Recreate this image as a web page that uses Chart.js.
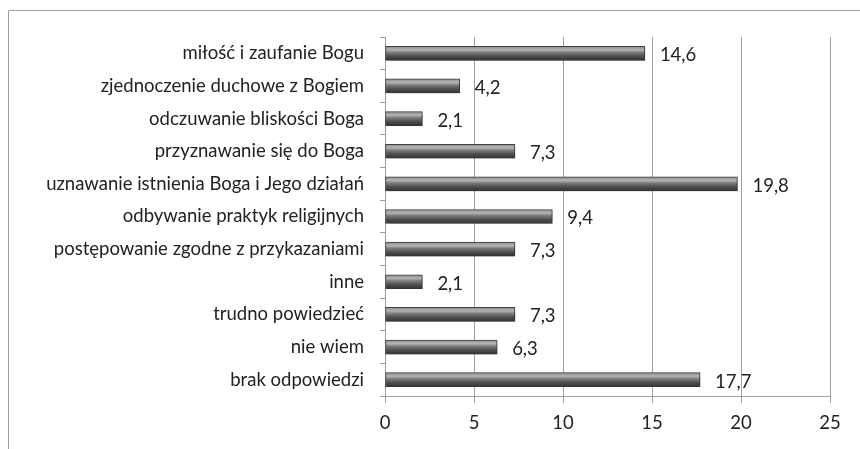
<!DOCTYPE html>
<html>
<head>
<meta charset="utf-8">
<script src="https://cdn.jsdelivr.net/npm/chart.js@4/dist/chart.umd.min.js"></script>
<style>
  html, body { margin: 0; padding: 0; background: #fff; }
  #wrap { position: relative; width: 860px; height: 449px; }
</style>
</head>
<body>
<div id="wrap"><canvas id="mygraph"></canvas></div>
<script>
// Dane wykresu
var categories = [
    "miłość i zaufanie Bogu",
    "zjednoczenie duchowe z Bogiem",
    "odczuwanie bliskości Boga",
    "przyznawanie się do Boga",
    "uznawanie istnienia Boga i Jego działań",
    "odbywanie praktyk religijnych",
    "postępowanie zgodne z przykazaniami",
    "inne",
    "trudno powiedzieć",
    "nie wiem",
    "brak odpowiedzi"
];
var values = [14.6, 4.2, 2.1, 7.3, 19.8, 9.4, 7.3, 2.1, 7.3, 6.3, 17.7];
var xTicks = [0, 5, 10, 15, 20, 25];

var FONT = "Lato";
var FSIZE = 18.5;
var BAR_H = 14;

// ramka wykresu (góra i lewa strona)
var framePlugin = {
    id: "frame",
    beforeDraw: function(chart) {
        var c = chart.ctx;
        c.save();
        c.strokeStyle = "#a0a0a0";
        c.lineWidth = 1;
        c.beginPath();
        c.moveTo(8.5, 449);
        c.lineTo(8.5, 10.5);
        c.lineTo(860, 10.5);
        c.stroke();
        c.restore();
    }
};

// cień pod słupkami
var shadowPlugin = {
    id: "barShadow",
    beforeDatasetDraw: function(chart) {
        var c = chart.ctx;
        c.save();
        c.shadowColor = "rgba(0,0,0,0.3)";
        c.shadowBlur = 4;
        c.shadowOffsetX = 2;
        c.shadowOffsetY = 2;
    },
    afterDatasetDraw: function(chart) {
        chart.ctx.restore();
    }
};

// etykiety wartości z przecinkiem
var labelPlugin = {
    id: "valueLabels",
    afterDatasetsDraw: function(chart) {
        var c = chart.ctx;
        var meta = chart.getDatasetMeta(0);
        c.save();
        c.font = FSIZE + "px " + FONT;
        c.fillStyle = "#222";
        c.textAlign = "left";
        c.textBaseline = "middle";
        meta.data.forEach(function(bar, i) {
            var txt = values[i].toFixed(1).replace(".", ",");
            c.fillText(txt, bar.x + 15, bar.y + 2);
        });
        c.restore();
    }
};

// gradient "walca" dla każdego słupka
function barGradient(context) {
    var chart = context.chart;
    var ys = chart.scales.y;
    if (!ys || context.dataIndex === undefined) return "#555";
    var cy = ys.getPixelForValue(context.dataIndex);
    if (!isFinite(cy)) return "#555";
    var top = cy - BAR_H / 2;
    var g = chart.ctx.createLinearGradient(0, top, 0, top + BAR_H);
    g.addColorStop(0, "#8a8a8a");
    g.addColorStop(0.25, "#b4b4b4");
    g.addColorStop(0.45, "#7a7a7a");
    g.addColorStop(0.7, "#505050");
    g.addColorStop(1, "#333333");
    return g;
}

var ctx = document.getElementById("mygraph");

var myGraph = new Chart(ctx, {
    type: "bar",
    data: {
        labels: categories,
        datasets: [{
            data: values,
            backgroundColor: barGradient,
            borderColor: "#444",
            borderWidth: 1,
            borderSkipped: false,
            barThickness: BAR_H
        }]
    },
    options: {
        indexAxis: "y",
        responsive: true,
        maintainAspectRatio: false,
        animation: false,
        layout: { padding: { left: 0, top: 37, right: 30, bottom: 0 } },
        plugins: {
            legend: { display: false },
            tooltip: { enabled: false }
        },
        scales: {
            x: {
                min: 0,
                max: 25,
                afterBuildTicks: function(scale) {
                    scale.ticks = xTicks.map(function(v) { return { value: v }; });
                },
                afterFit: function(scale) { scale.height = 53; },
                grid: {
                    color: "#a0a0a0",
                    tickLength: 7,
                    drawTicks: true
                },
                border: { color: "#a0a0a0" },
                ticks: {
                    color: "#222",
                    font: { family: FONT, size: FSIZE },
                    padding: 9
                }
            },
            y: {
                afterFit: function(scale) { scale.width = 385; },
                grid: {
                    drawOnChartArea: false,
                    color: "#a0a0a0",
                    tickLength: 5
                },
                border: { color: "#a0a0a0" },
                ticks: {
                    color: "#222",
                    font: { family: FONT, size: FSIZE },
                    padding: 16,
                    autoSkip: false
                }
            }
        }
    },
    plugins: [framePlugin, shadowPlugin, labelPlugin]
});
myGraph.update();
</script>
</body>
</html>
